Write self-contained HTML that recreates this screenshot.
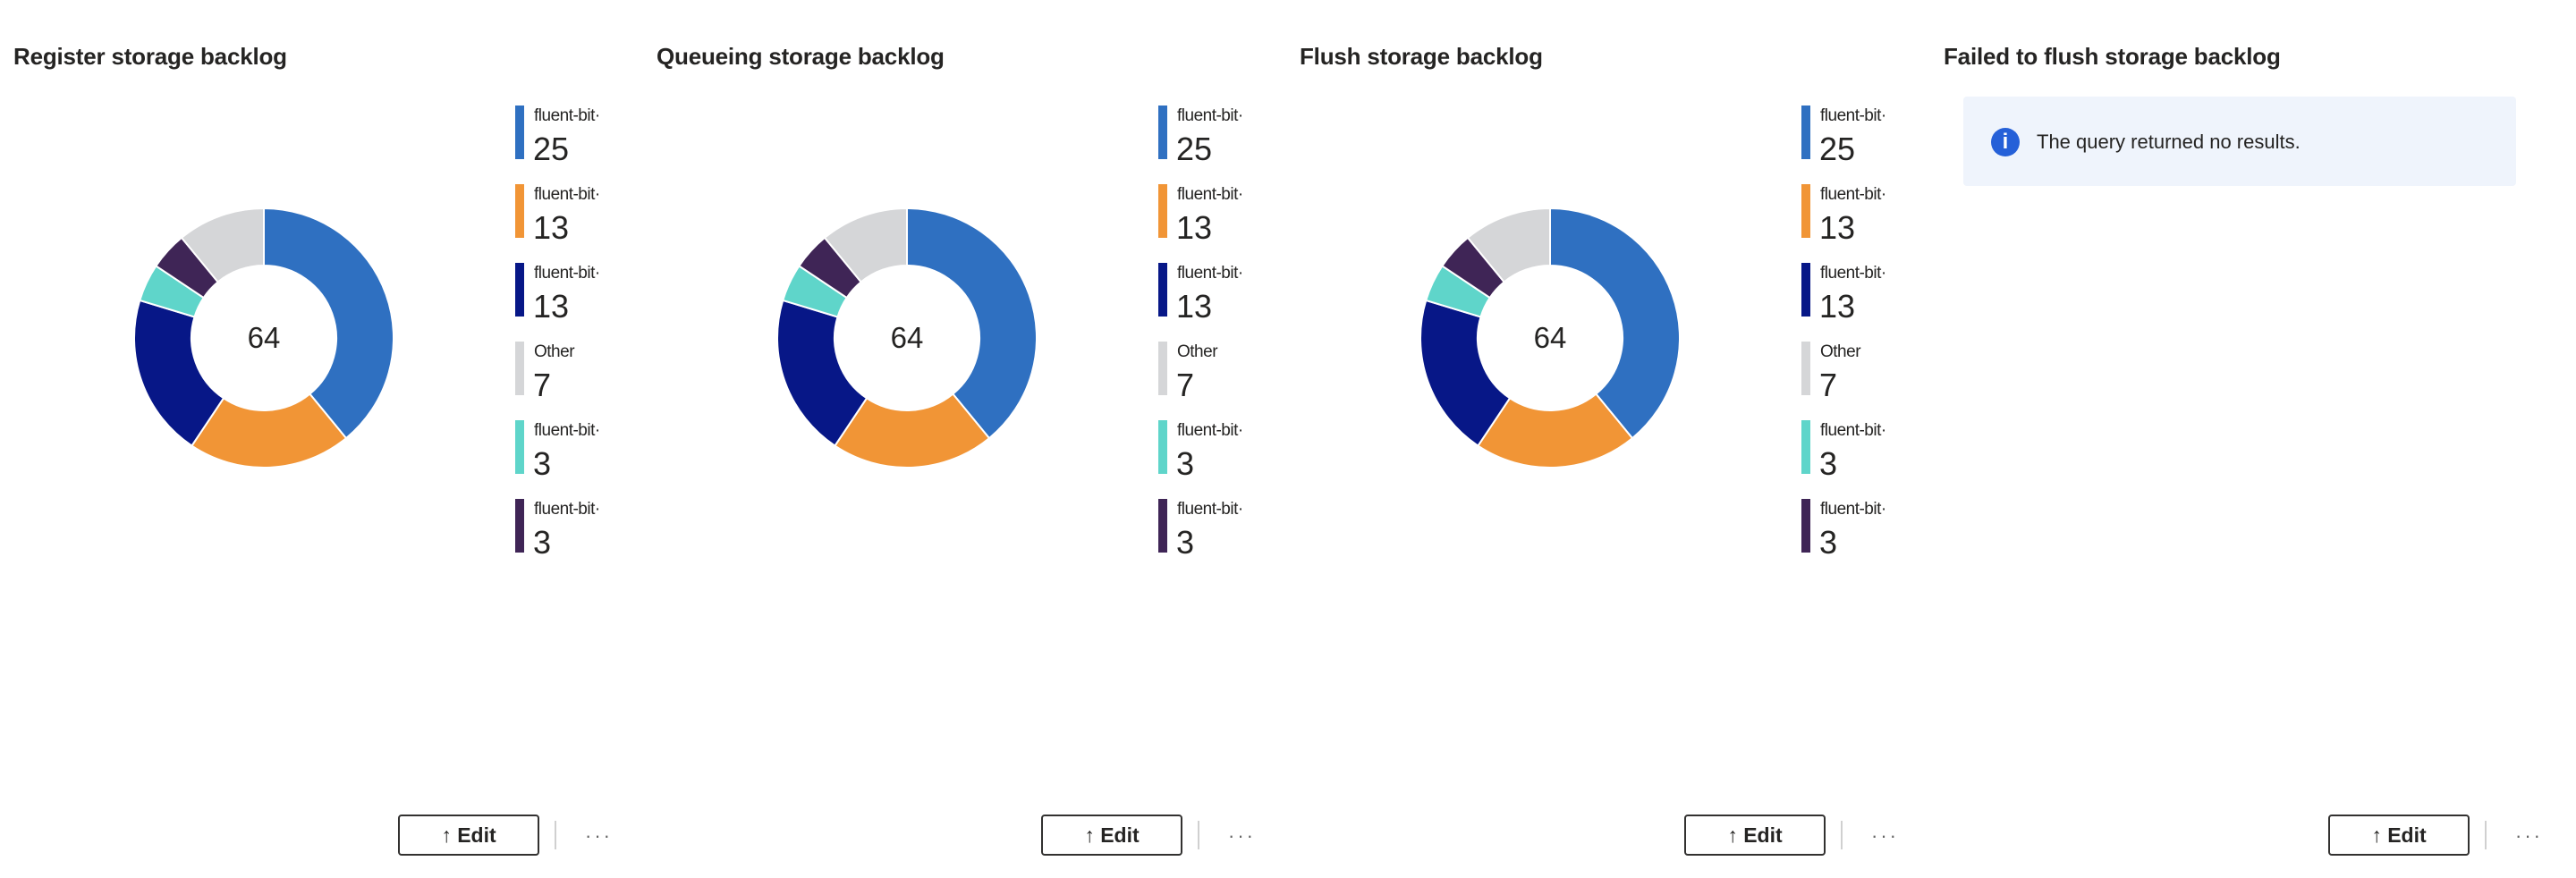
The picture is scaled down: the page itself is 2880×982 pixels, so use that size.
<!DOCTYPE html>
<html><head><meta charset="utf-8"><style>
body{margin:0;width:2880px;height:982px;background:#fff;position:relative;overflow:hidden;font-family:"Liberation Sans",sans-serif;color:#252423}
.p{position:absolute;top:0;width:719px;height:982px}
.t{position:absolute;left:15px;top:48px;font-size:26px;font-weight:bold;white-space:nowrap;letter-spacing:-0.2px}
.lg{position:absolute;left:576px;width:140px;height:62px}
.lg .b{position:absolute;left:0;top:0;width:10px;height:60px}
.lg .l{position:absolute;left:21px;top:2px;font-size:19px;line-height:20px;white-space:nowrap;letter-spacing:-0.5px}
.lg .v{position:absolute;left:20px;top:30px;font-size:36px;line-height:38px}
.c{position:absolute;left:245px;top:358px;width:100px;text-align:center;font-size:33px;line-height:40px}
.ed{position:absolute;left:445px;top:911px;width:154px;height:42px;border:2px solid #323130;border-radius:4px;text-align:center;font-size:23px;line-height:42px;font-weight:bold}
.dv{position:absolute;left:620px;top:918px;width:2px;height:32px;background:#d0d0d0}
.dt{position:absolute;left:654px;top:922px;font-size:22px;color:#666;letter-spacing:3px}
svg{position:absolute;left:0;top:0}
</style></head><body>

<div class="p" style="left:0"><div class="t">Register storage backlog</div>
<svg width="600" height="700"><g transform="translate(295,378)" stroke="#fff" stroke-width="2">
<path d="M0,-145A145,145 0 0 1 91.99,112.09L51.39,62.61A81,81 0 0 0 0,-81Z" fill="#2f70c1"/>
<path d="M91.99,112.09A145,145 0 0 1 -80.56,120.57L-45,67.35A81,81 0 0 0 51.39,62.61Z" fill="#f19536"/>
<path d="M-80.56,120.57A145,145 0 0 1 -138.75,-42.09L-77.51,-23.51A81,81 0 0 0 -45,67.35Z" fill="#071787"/>
<path d="M-138.75,-42.09A145,145 0 0 1 -120.57,-80.56L-67.35,-45A81,81 0 0 0 -77.51,-23.51Z" fill="#5fd5ca"/>
<path d="M-120.57,-80.56A145,145 0 0 1 -91.99,-112.09L-51.39,-62.61A81,81 0 0 0 -67.35,-45Z" fill="#3f2556"/>
<path d="M-91.99,-112.09A145,145 0 0 1 0,-145L0,-81A81,81 0 0 0 -51.39,-62.61Z" fill="#d5d6d8"/>
</g></svg>
<div class="c">64</div>
<div class="lg" style="top:118px"><div class="b" style="background:#2f70c1"></div><div class="l">fluent-bit·</div><div class="v">25</div></div>
<div class="lg" style="top:206px"><div class="b" style="background:#f19536"></div><div class="l">fluent-bit·</div><div class="v">13</div></div>
<div class="lg" style="top:294px"><div class="b" style="background:#071787"></div><div class="l">fluent-bit·</div><div class="v">13</div></div>
<div class="lg" style="top:382px"><div class="b" style="background:#d5d6d8"></div><div class="l">Other</div><div class="v">7</div></div>
<div class="lg" style="top:470px"><div class="b" style="background:#5fd5ca"></div><div class="l">fluent-bit·</div><div class="v">3</div></div>
<div class="lg" style="top:558px"><div class="b" style="background:#3f2556"></div><div class="l">fluent-bit·</div><div class="v">3</div></div>
<div class="ed">↑ Edit</div><div class="dv"></div><div class="dt">···</div></div>

<div class="p" style="left:719px"><div class="t">Queueing storage backlog</div>
<svg width="600" height="700"><g transform="translate(295,378)" stroke="#fff" stroke-width="2">
<path d="M0,-145A145,145 0 0 1 91.99,112.09L51.39,62.61A81,81 0 0 0 0,-81Z" fill="#2f70c1"/>
<path d="M91.99,112.09A145,145 0 0 1 -80.56,120.57L-45,67.35A81,81 0 0 0 51.39,62.61Z" fill="#f19536"/>
<path d="M-80.56,120.57A145,145 0 0 1 -138.75,-42.09L-77.51,-23.51A81,81 0 0 0 -45,67.35Z" fill="#071787"/>
<path d="M-138.75,-42.09A145,145 0 0 1 -120.57,-80.56L-67.35,-45A81,81 0 0 0 -77.51,-23.51Z" fill="#5fd5ca"/>
<path d="M-120.57,-80.56A145,145 0 0 1 -91.99,-112.09L-51.39,-62.61A81,81 0 0 0 -67.35,-45Z" fill="#3f2556"/>
<path d="M-91.99,-112.09A145,145 0 0 1 0,-145L0,-81A81,81 0 0 0 -51.39,-62.61Z" fill="#d5d6d8"/>
</g></svg>
<div class="c">64</div>
<div class="lg" style="top:118px"><div class="b" style="background:#2f70c1"></div><div class="l">fluent-bit·</div><div class="v">25</div></div>
<div class="lg" style="top:206px"><div class="b" style="background:#f19536"></div><div class="l">fluent-bit·</div><div class="v">13</div></div>
<div class="lg" style="top:294px"><div class="b" style="background:#071787"></div><div class="l">fluent-bit·</div><div class="v">13</div></div>
<div class="lg" style="top:382px"><div class="b" style="background:#d5d6d8"></div><div class="l">Other</div><div class="v">7</div></div>
<div class="lg" style="top:470px"><div class="b" style="background:#5fd5ca"></div><div class="l">fluent-bit·</div><div class="v">3</div></div>
<div class="lg" style="top:558px"><div class="b" style="background:#3f2556"></div><div class="l">fluent-bit·</div><div class="v">3</div></div>
<div class="ed">↑ Edit</div><div class="dv"></div><div class="dt">···</div></div>

<div class="p" style="left:1438px"><div class="t">Flush storage backlog</div>
<svg width="600" height="700"><g transform="translate(295,378)" stroke="#fff" stroke-width="2">
<path d="M0,-145A145,145 0 0 1 91.99,112.09L51.39,62.61A81,81 0 0 0 0,-81Z" fill="#2f70c1"/>
<path d="M91.99,112.09A145,145 0 0 1 -80.56,120.57L-45,67.35A81,81 0 0 0 51.39,62.61Z" fill="#f19536"/>
<path d="M-80.56,120.57A145,145 0 0 1 -138.75,-42.09L-77.51,-23.51A81,81 0 0 0 -45,67.35Z" fill="#071787"/>
<path d="M-138.75,-42.09A145,145 0 0 1 -120.57,-80.56L-67.35,-45A81,81 0 0 0 -77.51,-23.51Z" fill="#5fd5ca"/>
<path d="M-120.57,-80.56A145,145 0 0 1 -91.99,-112.09L-51.39,-62.61A81,81 0 0 0 -67.35,-45Z" fill="#3f2556"/>
<path d="M-91.99,-112.09A145,145 0 0 1 0,-145L0,-81A81,81 0 0 0 -51.39,-62.61Z" fill="#d5d6d8"/>
</g></svg>
<div class="c">64</div>
<div class="lg" style="top:118px"><div class="b" style="background:#2f70c1"></div><div class="l">fluent-bit·</div><div class="v">25</div></div>
<div class="lg" style="top:206px"><div class="b" style="background:#f19536"></div><div class="l">fluent-bit·</div><div class="v">13</div></div>
<div class="lg" style="top:294px"><div class="b" style="background:#071787"></div><div class="l">fluent-bit·</div><div class="v">13</div></div>
<div class="lg" style="top:382px"><div class="b" style="background:#d5d6d8"></div><div class="l">Other</div><div class="v">7</div></div>
<div class="lg" style="top:470px"><div class="b" style="background:#5fd5ca"></div><div class="l">fluent-bit·</div><div class="v">3</div></div>
<div class="lg" style="top:558px"><div class="b" style="background:#3f2556"></div><div class="l">fluent-bit·</div><div class="v">3</div></div>
<div class="ed">↑ Edit</div><div class="dv"></div><div class="dt">···</div></div>

<div class="p" style="left:2158px"><div class="t">Failed to flush storage backlog</div>
<div style="position:absolute;left:37px;top:108px;width:618px;height:100px;background:#eff4fc;border-radius:4px">
<div style="position:absolute;left:31px;top:35px;width:32px;height:32px;border-radius:50%;background:#2560d8;color:#fff;text-align:center;font-weight:bold;font-size:24px;line-height:32px;font-family:'Liberation Sans',sans-serif">i</div>
<div style="position:absolute;left:82px;top:37px;font-size:22px;line-height:28px">The query returned no results.</div></div>
<div class="ed">↑ Edit</div><div class="dv"></div><div class="dt">···</div></div>
</body></html>
